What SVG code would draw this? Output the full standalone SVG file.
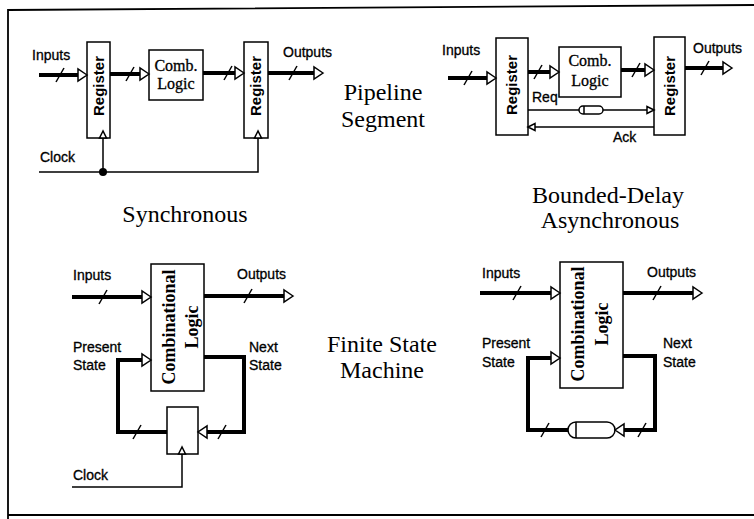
<svg xmlns="http://www.w3.org/2000/svg" width="754" height="519" viewBox="0 0 754 519">
<style>
.box{fill:#fff;stroke:#000;stroke-width:1.5}
.bus{fill:none;stroke:#000;stroke-width:4}
.thin{fill:none;stroke:#000;stroke-width:1.5}
.ah{fill:#fff;stroke:#000;stroke-width:1.5;stroke-linejoin:miter}
.sl{stroke:#000;stroke-width:1.5}
.lbl{font-family:"Liberation Sans",Arial,sans-serif;font-size:14px;fill:#000;stroke:#000;stroke-width:0.3}
.reg{font-family:"Liberation Sans",Arial,sans-serif;font-size:15px;font-weight:bold;fill:#000;text-anchor:middle}
.cl{font-family:"Liberation Serif","Times New Roman",serif;font-size:16px;fill:#000;text-anchor:middle;stroke:#000;stroke-width:0.3}
.big{font-family:"Liberation Serif","Times New Roman",serif;font-size:18px;font-weight:bold;fill:#000;text-anchor:middle}
.title{font-family:"Liberation Serif","Times New Roman",serif;font-size:24px;fill:#000;text-anchor:middle}
</style>
<defs>
<path id="ah" class="ah" d="M0,0 L-9,-6 L-9,6 Z"/>
<path id="ahs" class="ah" d="M0,0 L-7,-3.5 L-7,3.5 Z"/>
<line id="sl" class="sl" x1="-4" y1="7" x2="4" y2="-7"/>
</defs>
<rect width="754" height="519" fill="#fff"/>
<path d="M8,519 V10 L754,5 M8,515 H754" fill="none" stroke="#000" stroke-width="1.8"/>

<g id="titles">
<text class="title" x="383" y="100">Pipeline</text>
<text class="title" x="383" y="127">Segment</text>
<text class="title" x="185" y="222">Synchronous</text>
<text class="title" x="608" y="203">Bounded-Delay</text>
<text class="title" x="610" y="228">Asynchronous</text>
<text class="title" x="382" y="352">Finite State</text>
<text class="title" x="382" y="378">Machine</text>
</g>

<!-- top-left synchronous pipeline -->
<g id="sync-reg1"><rect class="box" x="87" y="42" width="23" height="96"/><text class="reg" transform="translate(104,86) rotate(-90)">Register</text></g>
<g id="sync-comb"><rect class="box" x="149" y="50" width="54" height="50"/><text class="cl" x="176" y="71">Comb.</text><text class="cl" x="176" y="89">Logic</text></g>
<g id="sync-reg2"><rect class="box" x="244" y="42" width="24" height="96"/><text class="reg" transform="translate(261,86) rotate(-90)">Register</text></g>
<g id="sync-labels">
<text class="lbl" x="32" y="60">Inputs</text>
<text class="lbl" x="283" y="57">Outputs</text>
<text class="lbl" x="40" y="162">Clock</text>
</g>

<!-- top-right async pipeline -->
<g id="async-reg1"><rect class="box" x="496" y="38" width="32" height="97"/><text class="reg" transform="translate(517,85) rotate(-90)">Register</text></g>
<g id="async-comb"><rect class="box" x="559" y="47" width="62" height="50"/><text class="cl" x="590" y="66">Comb.</text><text class="cl" x="590" y="86">Logic</text></g>
<g id="async-reg2"><rect class="box" x="654" y="37" width="31" height="98"/><text class="reg" transform="translate(675,86) rotate(-90)">Register</text></g>
<g id="async-delay"><rect class="box" x="579" y="106" width="24" height="8" rx="4"/><line class="thin" x1="584" y1="106" x2="584" y2="114"/></g>
<g id="async-labels">
<text class="lbl" x="442" y="55">Inputs</text>
<text class="lbl" x="693" y="53">Outputs</text>
<text class="lbl" x="532" y="102">Req</text>
<text class="lbl" x="613" y="142">Ack</text>
</g>

<!-- bottom-left synchronous FSM -->
<g id="sfsm-comb"><rect class="box" x="151" y="264" width="53" height="127"/>
<text class="big" transform="translate(175,327) rotate(-90)">Combinational</text>
<text class="big" transform="translate(198,327) rotate(-90)">Logic</text></g>
<g id="sfsm-reg"><rect class="box" x="167" y="407" width="31" height="47"/></g>
<g id="sfsm-labels">
<text class="lbl" x="73" y="352">Present</text>
<text class="lbl" x="73" y="370">State</text>
<text class="lbl" x="73" y="280">Inputs</text>
<text class="lbl" x="237" y="279">Outputs</text>
<text class="lbl" x="249" y="352">Next</text>
<text class="lbl" x="249" y="370">State</text>
<text class="lbl" x="73" y="480">Clock</text>
</g>

<!-- bottom-right async FSM -->
<g id="afsm-comb"><rect class="box" x="560" y="262" width="63" height="126"/>
<text class="big" transform="translate(584,324) rotate(-90)">Combinational</text>
<text class="big" transform="translate(608,324) rotate(-90)">Logic</text></g>
<g id="afsm-delay"><rect class="box" x="568" y="422" width="47" height="16" rx="8"/><line class="thin" x1="576" y1="422" x2="576" y2="438"/></g>
<g id="afsm-labels">
<text class="lbl" x="482" y="278">Inputs</text>
<text class="lbl" x="647" y="277">Outputs</text>
<text class="lbl" x="482" y="348">Present</text>
<text class="lbl" x="482" y="367">State</text>
<text class="lbl" x="663" y="348">Next</text>
<text class="lbl" x="663" y="367">State</text>
</g>

<g id="connectors">
<!-- sync pipeline -->
<path class="bus" d="M39,75 H78"/><use href="#ah" x="87" y="75"/><use href="#sl" x="60" y="75"/>
<path class="bus" d="M110,74 H140"/><use href="#ah" x="149" y="74"/><use href="#sl" x="130" y="74"/>
<path class="bus" d="M203,73 H235"/><use href="#ah" x="244" y="73"/><use href="#sl" x="228" y="73"/>
<path class="bus" d="M268,73 H314"/><use href="#ah" x="323" y="73"/><use href="#sl" x="293" y="73"/>
<path class="thin" d="M39,172 H258 V138 M103,172 V138"/>
<circle cx="103" cy="172" r="4" fill="#000"/>
<use href="#ahs" transform="translate(103,131) rotate(-90)"/>
<use href="#ahs" transform="translate(258,131) rotate(-90)"/>
<!-- async pipeline -->
<path class="bus" d="M448,78 H487"/><use href="#ah" x="496" y="78"/><use href="#sl" x="468" y="78"/>
<path class="bus" d="M528,72 H550"/><use href="#ah" x="559" y="72"/><use href="#sl" x="538" y="72"/>
<path class="bus" d="M621,70 H645"/><use href="#ah" x="654" y="70"/><use href="#sl" x="636" y="70"/>
<path class="bus" d="M685,68 H723"/><use href="#ah" x="732" y="68"/><use href="#sl" x="705" y="68"/>
<path class="thin" d="M528,110 H579 M603,110 H647"/><use href="#ahs" x="654" y="110"/>
<path class="thin" d="M654,127 H535"/><use href="#ahs" transform="translate(528,127) rotate(180)"/>
<!-- sync FSM -->
<path class="bus" d="M72,297 H142"/><use href="#ah" x="151" y="297"/><use href="#sl" x="103" y="297"/>
<path class="bus" d="M204,296 H284"/><use href="#ah" x="293" y="296"/><use href="#sl" x="248" y="296"/>
<path class="bus" d="M167,432 H118 V360 H142"/><use href="#ah" x="151" y="360"/><use href="#sl" x="137" y="432"/>
<path class="bus" d="M204,357 H244 V432 H207"/><use href="#ah" transform="translate(198,432) rotate(180)"/><use href="#sl" x="222" y="432"/>
<path class="thin" d="M72,487 H182 V454"/><use href="#ahs" transform="translate(182,447) rotate(-90)"/>
<!-- async FSM -->
<path class="bus" d="M480,293 H551"/><use href="#ah" x="560" y="293"/><use href="#sl" x="517" y="293"/>
<path class="bus" d="M623,293 H693"/><use href="#ah" x="702" y="293"/><use href="#sl" x="657" y="293"/>
<path class="bus" d="M568,430 H528 V358 H551"/><use href="#ah" x="560" y="358"/><use href="#sl" x="545" y="430"/>
<path class="bus" d="M623,356 H655 V430 H624"/><use href="#ah" transform="translate(615,430) rotate(180)"/><use href="#sl" x="642" y="430"/>
</g>
</svg>
